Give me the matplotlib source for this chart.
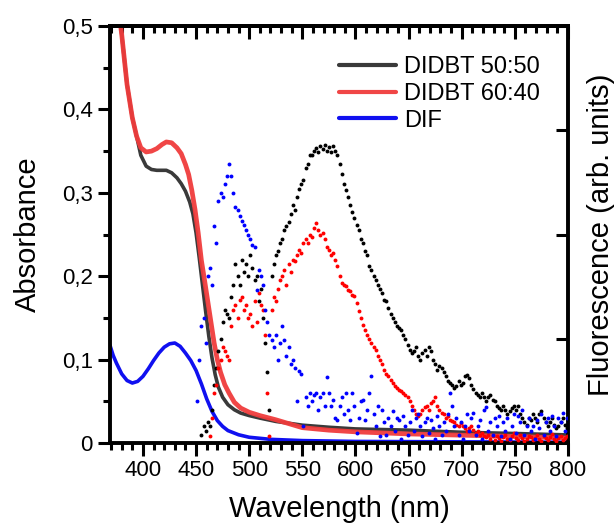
import numpy as np
import matplotlib
matplotlib.use('Agg')
import matplotlib.pyplot as plt
from matplotlib.ticker import MultipleLocator, FuncFormatter

plt.rcParams['font.family'] = ['Liberation Sans', 'DejaVu Sans']

# absorbance spectra (nm, abs)
abs_wl_5050 = [365, 370, 375, 380, 385, 390, 394, 398, 403, 408, 413, 418, 422, 427, 432, 436, 440,
               444, 447, 450, 453, 456, 459, 462, 465, 468, 471, 475, 480, 486, 492, 500, 510,
               525, 550, 575, 600, 650, 700, 750, 800]
abs_5050 = [0.66, 0.60, 0.54, 0.49, 0.43, 0.39, 0.368, 0.345, 0.332, 0.328, 0.327, 0.327, 0.327,
            0.324, 0.318, 0.311, 0.302, 0.289, 0.275, 0.252, 0.222, 0.19, 0.158, 0.128, 0.102,
            0.082, 0.067, 0.055, 0.046, 0.040, 0.036, 0.033, 0.030, 0.026, 0.0215, 0.019, 0.017,
            0.0155, 0.013, 0.0115, 0.0098]

abs_wl_6040 = [365, 370, 375, 380, 385, 390, 394, 398, 403, 408, 413, 418, 422, 427, 432, 436, 440,
               443, 446, 449, 452, 455, 458, 461, 464, 467, 470, 473, 477, 481, 486, 492, 500,
               510, 525, 550, 575, 600, 650, 700, 750, 800]
abs_6040 = [0.66, 0.60, 0.54, 0.49, 0.43, 0.39, 0.368, 0.354, 0.349, 0.350, 0.353, 0.358, 0.361,
            0.360, 0.354, 0.347, 0.334, 0.322, 0.303, 0.28, 0.252, 0.219, 0.195, 0.17, 0.145,
            0.12, 0.1, 0.085, 0.07, 0.06, 0.049, 0.042, 0.037, 0.033, 0.028, 0.0185, 0.0155,
            0.0135, 0.011, 0.0095, 0.008, 0.006]

abs_wl_dif = [369, 372, 375, 380, 385, 390, 395, 400, 405, 410, 415, 420, 425, 430, 435, 440,
              445, 450, 455, 460, 465, 470, 475, 480, 490, 500, 520, 550, 600, 700, 800]
abs_dif = [0.117, 0.105, 0.096, 0.083, 0.075, 0.072, 0.074, 0.080, 0.089, 0.099, 0.108, 0.115,
           0.119, 0.120, 0.116, 0.108, 0.099, 0.087, 0.071, 0.053, 0.038, 0.027, 0.020, 0.015,
           0.010, 0.007, 0.0045, 0.003, 0.002, 0.0015, 0.001]

# fluorescence spectra, 2 nm steps, each piece given by its first wavelength
fl_5050_a_start = 455
fl_5050_a = [0.01, 0.02, 0.015, 0.025, 0.02, 0.04, 0.07, 0.09, 0.11, 0.125, 0.145, 0.16, 0.155,
             0.15, 0.175, 0.19, 0.215, 0.2, 0.19, 0.22, 0.205, 0.215, 0.2, 0.225, 0.21, 0.195,
             0.2, 0.17, 0.185, 0.15, 0.12, 0.085, 0.04]
fl_5050_b_start = 521
fl_5050_b = [0.20, 0.215, 0.225, 0.23, 0.24, 0.245, 0.255, 0.26, 0.265, 0.275, 0.285, 0.28, 0.295,
             0.305, 0.31, 0.315, 0.33, 0.335, 0.345, 0.345, 0.35, 0.354, 0.349, 0.356, 0.352,
             0.357, 0.35, 0.355, 0.349, 0.356, 0.35, 0.345, 0.335, 0.322, 0.31, 0.303, 0.295,
             0.285, 0.277, 0.27, 0.262, 0.255, 0.245, 0.24, 0.23, 0.225, 0.212, 0.207, 0.2, 0.195,
             0.19, 0.185, 0.18, 0.172, 0.17, 0.162, 0.155, 0.15, 0.145, 0.14, 0.138, 0.136, 0.13,
             0.125, 0.118, 0.112, 0.108, 0.11, 0.115, 0.105, 0.1, 0.108, 0.112, 0.105, 0.115,
             0.11, 0.1, 0.095, 0.088, 0.092, 0.09, 0.085, 0.08, 0.075, 0.072, 0.07, 0.066, 0.068,
             0.075, 0.07, 0.072, 0.08, 0.082, 0.078, 0.07, 0.065, 0.06, 0.058, 0.055, 0.06, 0.055,
             0.05, 0.055, 0.058, 0.052, 0.05, 0.045, 0.042, 0.04, 0.045, 0.04, 0.035, 0.038,
             0.042, 0.045, 0.04, 0.045, 0.035, 0.03, 0.025, 0.022, 0.03, 0.028, 0.035, 0.03,
             0.025, 0.035, 0.038, 0.03, 0.025, 0.02, 0.025, 0.03, 0.022, 0.018, 0.02, 0.025, 0.03,
             0.022, 0.018]

fl_6040_a_start = 463
fl_6040_a = [0.008, 0.03, 0.06, 0.07, 0.09, 0.1, 0.115, 0.11, 0.105, 0.1, 0.14, 0.16, 0.165, 0.15,
             0.172, 0.175, 0.16, 0.165, 0.15, 0.155, 0.14, 0.17, 0.145, 0.18, 0.165, 0.16, 0.13,
             0.06, 0.008]
fl_6040_b_start = 521
fl_6040_b = [0.16, 0.175, 0.17, 0.185, 0.195, 0.2, 0.207, 0.19, 0.215, 0.205, 0.22, 0.218, 0.225,
             0.232, 0.228, 0.24, 0.245, 0.24, 0.25, 0.247, 0.258, 0.264, 0.255, 0.25, 0.252, 0.245,
             0.235, 0.232, 0.225, 0.228, 0.22, 0.212, 0.2, 0.192, 0.19, 0.188, 0.184, 0.182, 0.178,
             0.176, 0.168, 0.158, 0.15, 0.142, 0.135, 0.13, 0.125, 0.12, 0.115, 0.112, 0.105, 0.1,
             0.095, 0.088, 0.083, 0.08, 0.076, 0.072, 0.068, 0.066, 0.064, 0.062, 0.06, 0.058,
             0.055, 0.05, 0.045, 0.04, 0.035, 0.033, 0.035, 0.04, 0.043, 0.044, 0.04, 0.048, 0.05,
             0.055, 0.045, 0.04, 0.036, 0.035, 0.03, 0.032, 0.028, 0.027, 0.025, 0.022, 0.02,
             0.024, 0.02, 0.018, 0.015, 0.018, 0.02, 0.016, 0.012, 0.014, 0.01, 0.012, 0.008,
             0.007, 0.01, 0.005, 0.008, 0.004, 0.009, 0.006, 0.003, 0.007, 0.01, 0.005, 0.004,
             0.008, 0.012, 0.006, 0.004, 0.01, 0.006, 0.003, 0.005, 0.009, 0.007, 0.004, 0.006,
             0.01, 0.005, 0.003, 0.008, 0.006, 0.004, 0.007, 0.011, 0.005, 0.003, 0.006, 0.008,
             0.004, 0.006, 0.009]

fl_dif_start = 451
fl_dif = [0.05, 0.1, 0.14, 0.15, 0.12, 0.2, 0.21, 0.19, 0.26, 0.24, 0.29, 0.3, 0.295, 0.31, 0.32,
          0.335, 0.32, 0.3, 0.283, 0.279, 0.272, 0.266, 0.262, 0.255, 0.249, 0.245, 0.238, 0.235,
          0.183, 0.207, 0.2, 0.19, 0.16, 0.145, 0.13,
          0.123, 0.115, 0.13, 0.1, 0.12, 0.14, 0.123, 0.105, 0.115, 0.095, 0.1, 0.09, 0.05, 0.087,
          0.083, 0.02, 0.055, 0.045, 0.06, 0.05, 0.058, 0.06, 0.04, 0.055, 0.06, 0.045, 0.079,
          0.06, 0.044, 0.052, 0.03, 0.028, 0.044, 0.055, 0.035, 0.06, 0.04, 0.028, 0.06, 0.045,
          0.012, 0.03, 0.05, 0.052, 0.028, 0.04, 0.06, 0.08, 0.035, 0.02, 0.045, 0.008, 0.04,
          0.025, 0.01, 0.03, 0.02, 0.038, 0.015, 0.03, 0.028, 0.005, 0.032, 0.02, 0.01, 0.025,
          0.04, 0.015, 0.03, 0.035, 0.02, 0.008, 0.025, 0.03, 0.012, 0.028, 0.018, 0.005, 0.032,
          0.02, 0.01, 0.025, 0.015, 0.035, 0.06, 0.045, 0.02, 0.03, 0.01, 0.025, 0.005, 0.02,
          0.035, 0.015, 0.03, 0.036, 0.01, 0.02, 0.028, 0.005, 0.04, 0.043, 0.015, 0.025, 0.01,
          0.03, 0.02, 0.032, 0.008, 0.025, 0.015, 0.03, 0.005, 0.02, 0.035, 0.012, 0.032, 0.025,
          0.04, 0.01, 0.02, 0.03, 0.015, 0.02, 0.005, 0.028, 0.018, 0.035, 0.01, 0.025, 0.03,
          0.015, 0.032, 0.02, 0.008, 0.03, 0.025, 0.036, 0.015, 0.03]

labels = ['DIDBT 50:50', 'DIDBT 60:40', 'DIF']
c_5050 = '#3a3a3a'
c_6040 = '#f03c3c'
c_dif = '#1010f0'


def wl_of(start, vals):
    return start + 2 * np.arange(len(vals))


fig = plt.figure(figsize=(6.16, 5.25), dpi=100)
ax = fig.add_axes([0.1786, 0.156, 0.7434, 0.7945])

ax.plot(abs_wl_5050, abs_5050, color=c_5050, lw=2.6, label=labels[0], solid_capstyle='round')
ax.plot(abs_wl_6040, abs_6040, color=c_6040, lw=3.4, alpha=0.95, label=labels[1],
        solid_capstyle='round')
ax.plot(abs_wl_dif, abs_dif, color=c_dif, lw=2.6, label=labels[2], solid_capstyle='round')

ax.set_xlim(369, 800)
ax.set_ylim(0, 0.5)
ax.xaxis.set_major_locator(MultipleLocator(50))
ax.xaxis.set_minor_locator(MultipleLocator(10))
ax.yaxis.set_major_locator(MultipleLocator(0.1))
ax.yaxis.set_minor_locator(MultipleLocator(0.05))
ax.yaxis.set_major_formatter(FuncFormatter(lambda v, p: '0' if abs(v) < 1e-9 else f'{v:.1f}'.replace('.', ',')))
ax.tick_params(axis='both', which='major', labelsize=16, width=2.2, length=9, direction='out')
ax.tick_params(axis='both', which='minor', width=2.2, length=5, direction='out')
for s in ax.spines.values():
    s.set_linewidth(2.8)
ax.set_xlabel('Wavelength (nm)', fontsize=21, labelpad=10)
ax.set_ylabel('Absorbance', fontsize=21, labelpad=14)

leg = ax.legend(loc='upper left', bbox_to_anchor=(0.48, 0.95), frameon=False, fontsize=17,
                handlelength=2.4, handletextpad=0.35, labelspacing=0.2, borderaxespad=0)
for h in leg.get_lines():
    h.set_linewidth(3)

# fluorescence on its own scale, right axis without numbers
ax2 = ax.twinx()
ax2.set_ylim(0, 0.5)
ax2.set_xlim(369, 800)
ms = 2.8
ax2.plot(wl_of(fl_5050_a_start, fl_5050_a), fl_5050_a, 'o', color='black', ms=ms, mew=0)
ax2.plot(wl_of(fl_5050_b_start, fl_5050_b), fl_5050_b, 'o', color='black', ms=ms, mew=0)
ax2.plot(wl_of(fl_6040_a_start, fl_6040_a), fl_6040_a, 'o', color='#ff0000', ms=ms, mew=0)
ax2.plot(wl_of(fl_6040_b_start, fl_6040_b), fl_6040_b, 'o', color='#ff0000', ms=ms, mew=0)
ax2.plot(wl_of(fl_dif_start, fl_dif), fl_dif, 'o', color='#0000ff', ms=ms, mew=0)
ax2.yaxis.set_major_locator(MultipleLocator(0.125))
ax2.yaxis.set_minor_locator(plt.NullLocator())
ax2.tick_params(axis='y', which='major', direction='in', length=9, width=2.2, labelright=False)
ax2.set_ylabel('Fluorescence (arb. units)', fontsize=21, labelpad=14)

# top axis: ticks pointing inward, no labels
ax3 = ax.secondary_xaxis('top')
ax3.xaxis.set_major_locator(MultipleLocator(50))
ax3.xaxis.set_minor_locator(MultipleLocator(10))
ax3.tick_params(which='major', direction='in', length=9, width=2.2, labeltop=False)
ax3.tick_params(which='minor', direction='in', length=5, width=2.2)
ax3.spines['top'].set_linewidth(2.8)

fig.savefig('out.png', dpi=100)
